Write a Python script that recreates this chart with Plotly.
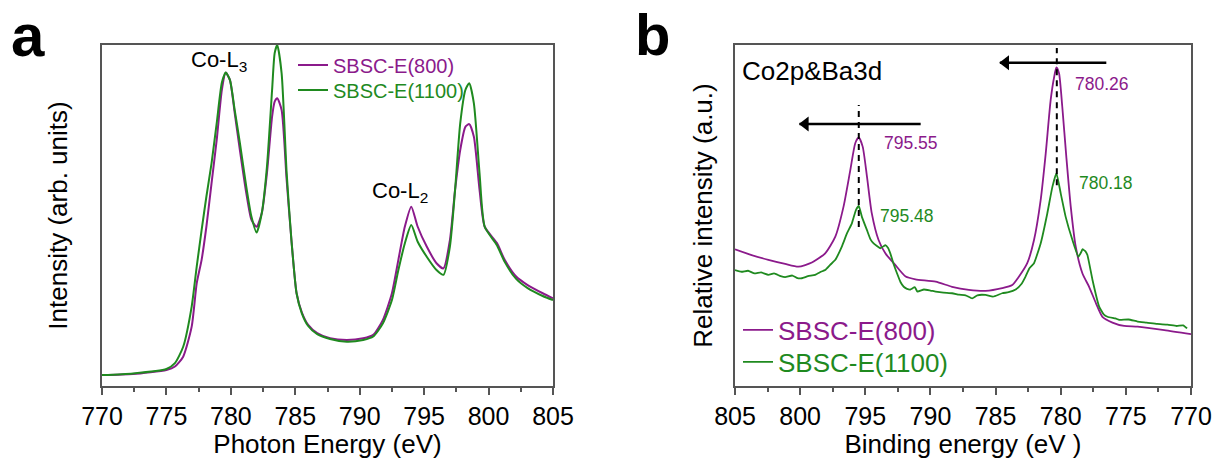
import plotly.graph_objects as go

# ---------------- (a) Co L-edge XAS ----------------
photon_energy = [770, 772.4, 775.0, 775.66, 776.3, 776.96, 777.35, 777.73, 778.1, 778.5,
                 778.9, 779.3, 779.6, 779.93, 780.3, 780.7, 781.2, 781.6, 782.0, 782.4,
                 782.8, 783.2, 783.4, 783.6, 783.94, 784.33, 784.7, 785.1, 785.5, 786.0,
                 786.7, 787.7, 789.0, 790.27, 791.05, 791.8, 792.5, 793.0, 793.5, 794.0,
                 794.5, 795.2, 795.96, 796.5, 797.0, 797.4, 797.8, 798.2, 798.5, 798.86,
                 799.3, 799.7, 800.65, 801.25, 802.14, 803.03, 804.2, 805]
xas_800 = [0.032, 0.035, 0.047, 0.057, 0.086, 0.174, 0.301, 0.370, 0.467, 0.594,
           0.721, 0.868, 0.919, 0.897, 0.800, 0.692, 0.565, 0.487, 0.467, 0.507,
           0.624, 0.790, 0.834, 0.844, 0.809, 0.604, 0.428, 0.272, 0.217, 0.179,
           0.155, 0.140, 0.135, 0.140, 0.150, 0.194, 0.272, 0.370, 0.467, 0.526,
           0.467, 0.409, 0.360, 0.345, 0.428, 0.575, 0.692, 0.760, 0.768, 0.731,
           0.575, 0.467, 0.419, 0.370, 0.321, 0.296, 0.272, 0.257]
xas_1100 = [0.032, 0.037, 0.050, 0.067, 0.115, 0.233, 0.350, 0.457, 0.555, 0.653,
            0.770, 0.889, 0.919, 0.897, 0.809, 0.713, 0.584, 0.496, 0.450, 0.507,
            0.643, 0.868, 0.976, 1.000, 0.917, 0.625, 0.428, 0.272, 0.214, 0.176,
            0.152, 0.138, 0.130, 0.135, 0.145, 0.184, 0.252, 0.340, 0.418, 0.472,
            0.423, 0.379, 0.340, 0.326, 0.409, 0.575, 0.770, 0.868, 0.888, 0.829,
            0.624, 0.467, 0.413, 0.364, 0.314, 0.287, 0.264, 0.252]

# ---------------- (b) Co2p & Ba3d XPS ----------------
be_800 = [805, 803.72, 802.44, 801.15, 800.13, 799.1, 798.08, 797.3, 796.67, 796.15,
          795.77, 795.5, 795.2, 794.87, 794.5, 793.98, 793.46, 792.7, 791.9, 791.15,
          789.6, 788.34, 787.05, 785.77, 784.49, 783.72, 783.2, 782.57, 782.05, 781.54,
          781.15, 780.77, 780.5, 780.33, 780.13, 779.88, 779.57, 779.23, 778.85, 778.33,
          777.82, 777.3, 776.8, 776.03, 775.13, 774.1, 772.05, 770]
xps_800 = [0.401, 0.384, 0.370, 0.358, 0.350, 0.362, 0.389, 0.438, 0.526, 0.633,
           0.712, 0.729, 0.702, 0.614, 0.506, 0.428, 0.389, 0.355, 0.321, 0.313,
           0.306, 0.291, 0.282, 0.279, 0.287, 0.296, 0.321, 0.360, 0.428, 0.545,
           0.682, 0.839, 0.907, 0.934, 0.917, 0.819, 0.672, 0.526, 0.409, 0.330,
           0.291, 0.243, 0.203, 0.186, 0.176, 0.174, 0.164, 0.152]
be_1100 = [805, 804.5, 804.0, 803.5, 803.0, 802.44, 802.0, 801.5, 801.15, 800.6,
           800.2, 799.87, 799.4, 798.85, 798.4, 798.08, 797.7, 797.3, 796.8, 796.4,
           796.03, 795.72, 795.5, 795.26, 794.87, 794.6, 794.36, 793.85, 793.6, 793.46,
           793.25, 793.08, 792.8, 792.56, 792.3, 792.05, 791.8, 791.54, 791.2, 791.0,
           790.5, 790.0, 789.6, 789.0, 788.34, 787.8, 787.3, 786.8, 786.4, 785.77,
           785.2, 784.49, 784.0, 783.46, 783.0, 782.7, 782.4, 782.05, 781.54, 781.03,
           780.64, 780.33, 780.0, 779.62, 779.1, 778.64, 778.4, 778.33, 778.1, 777.95,
           777.56, 777.05, 776.7, 776.41, 775.8, 775.5, 774.8, 774.1, 773.4, 772.6,
           771.8, 771.1, 770.6, 770.3]
xps_1100 = [0.340, 0.335, 0.338, 0.330, 0.333, 0.326, 0.330, 0.322, 0.319, 0.324,
            0.316, 0.316, 0.322, 0.326, 0.335, 0.340, 0.355, 0.370, 0.409, 0.448,
            0.477, 0.516, 0.528, 0.496, 0.457, 0.430, 0.418, 0.404, 0.410, 0.413,
            0.405, 0.389, 0.355, 0.330, 0.305, 0.291, 0.285, 0.283, 0.290, 0.277,
            0.283, 0.280, 0.277, 0.274, 0.272, 0.268, 0.266, 0.257, 0.266, 0.267,
            0.262, 0.272, 0.275, 0.283, 0.300, 0.321, 0.345, 0.360, 0.418, 0.506,
            0.584, 0.624, 0.565, 0.496, 0.428, 0.379, 0.395, 0.401, 0.395, 0.384,
            0.311, 0.233, 0.210, 0.203, 0.198, 0.194, 0.195, 0.189, 0.186, 0.182,
            0.180, 0.176, 0.178, 0.169]

# peak positions and labels in (b)
peak_lines = [795.5, 780.3]
peak_line_span = [(0.466, 0.824), (0.589, 0.991)]
peak_labels = [("795.55", 793.68, 0.713, "800"), ("795.48", 794.02, 0.500, "1100"),
               ("780.26", 779.05, 0.886, "800"), ("780.18", 778.75, 0.595, "1100")]
# shift arrows towards higher binding energy: (tail, tip, height)
shift_arrows = [(790.75, 800.05, 0.768), (776.5, 784.67, 0.948)]
ARROW_HEAD_DEPTH = 0.45  # eV between arrow tip and head marker centre

PURPLE = "#8b1a8b"
GREEN = "#1f8a1f"
COLORS = {"800": PURPLE, "1100": GREEN}
FONT = "Liberation Sans, Arial, sans-serif"
AXIS_COLOR = "#555555"
W, H = 1214, 459


def label(text, color):
    return f"<span style='color:{color}'>{text}</span>"


def px_x(px):
    return px / W


def px_y(px):
    return 1 - px / H


fig = go.Figure()

series = [
    (photon_energy, xas_800, PURPLE, "SBSC-E(800)", "x", "y", "legend", 2.0, 0.6),
    (photon_energy, xas_1100, GREEN, "SBSC-E(1100)", "x", "y", "legend2", 2.0, 0.6),
    (be_800, xps_800, PURPLE, "SBSC-E(800)", "x2", "y2", "legend3", 1.8, 0.6),
    (be_1100, xps_1100, GREEN, "SBSC-E(1100)", "x2", "y2", "legend4", 1.8, 0.4),
]
for xs, ys, color, name, xa, ya, lg, lw, sm in series:
    fig.add_trace(go.Scatter(x=xs, y=ys, mode="lines",
                             line=dict(color=color, width=lw, shape="spline", smoothing=sm),
                             name=label(name, color), xaxis=xa, yaxis=ya, legend=lg))

# shift arrows in (b)
for tail, tip, yv in shift_arrows:
    fig.add_trace(go.Scatter(x=[tail, tip], y=[yv, yv], mode="lines",
                             line=dict(color="black", width=2.5),
                             xaxis="x2", yaxis="y2", showlegend=False, hoverinfo="skip"))
    fig.add_trace(go.Scatter(x=[tip - ARROW_HEAD_DEPTH], y=[yv], mode="markers",
                             marker=dict(symbol="triangle-left", size=13, color="black",
                                         line=dict(width=0)),
                             xaxis="x2", yaxis="y2", showlegend=False, hoverinfo="skip"))

x_common = dict(
    automargin=False,
    showline=True, linecolor=AXIS_COLOR, linewidth=1.5, mirror=True,
    showgrid=False, zeroline=False,
    ticks="outside", ticklen=7, tickwidth=1.5, tickcolor=AXIS_COLOR,
    dtick=5, tick0=770,
    minor=dict(ticks="outside", ticklen=4, tickwidth=1.5, tickcolor=AXIS_COLOR, dtick=2.5),
    tickfont=dict(family=FONT, size=25, color="black"),
    title_font=dict(family=FONT, size=26, color="black"),
    title_standoff=6,
)
y_common = dict(
    automargin=False,
    showline=True, linecolor=AXIS_COLOR, linewidth=1.5, mirror=True,
    showgrid=False, zeroline=False, showticklabels=False, ticks="",
    range=[0, 1.0],
    title_font=dict(family=FONT, size=26, color="black"),
)


def legend_box(x_px, y_px, size):
    return dict(x=px_x(x_px), y=px_y(y_px), xanchor="left", yanchor="middle",
                bgcolor="rgba(0,0,0,0)", font=dict(family=FONT, size=size),
                itemwidth=30, borderwidth=0)


fig.update_layout(
    width=W, height=H,
    margin=dict(l=0, r=0, t=0, b=0, autoexpand=False),
    paper_bgcolor="white", plot_bgcolor="white",
    font=dict(family=FONT, color="black"),
    xaxis=dict(domain=[px_x(102), px_x(553)], range=[770, 805], anchor="y",
               title_text="Photon Energy (eV)", **x_common),
    yaxis=dict(domain=[px_y(386), px_y(45)], anchor="x",
               title_text="Intensity (arb. units)", title_standoff=25, **y_common),
    xaxis2=dict(domain=[px_x(735), px_x(1191)], range=[805, 770], anchor="y2",
                title_text="Binding energy (eV )", **x_common),
    yaxis2=dict(domain=[px_y(386), px_y(45)], anchor="x2",
                title_text="Relative intensity (a.u.)", title_standoff=13, **y_common),
    legend=legend_box(293, 65, 20),
    legend2=legend_box(293, 90, 20),
    legend3=legend_box(738, 330, 26),
    legend4=legend_box(738, 362, 26),
    showlegend=True,
)

annotations = [
    dict(text="<b>a</b>", x=px_x(27.5), y=1, xref="paper", yref="paper",
         xanchor="center", yanchor="top", showarrow=False,
         font=dict(family=FONT, size=60, color="black")),
    dict(text="<b>b</b>", x=px_x(652.5), y=1, xref="paper", yref="paper",
         xanchor="center", yanchor="top", showarrow=False,
         font=dict(family=FONT, size=58, color="black")),
    dict(text="Co-L<sub>3</sub>", x=776.75, y=0.954, xref="x", yref="y",
         xanchor="left", yanchor="middle", showarrow=False,
         font=dict(family=FONT, size=22, color="black")),
    dict(text="Co-L<sub>2</sub>", x=790.79, y=0.570, xref="x", yref="y",
         xanchor="left", yanchor="middle", showarrow=False,
         font=dict(family=FONT, size=22, color="black")),
    dict(text="Co2p&Ba3d", x=0.01, y=0.924, xref="x2 domain", yref="y2 domain",
         xanchor="left", yanchor="middle", showarrow=False,
         font=dict(family=FONT, size=26, color="black")),
]
for text, xv, yv, key in peak_labels:
    annotations.append(dict(text=text, x=xv, y=yv, xref="x2", yref="y2",
                            xanchor="left", yanchor="middle", showarrow=False,
                            font=dict(family=FONT, size=17.5, color=COLORS[key])))
fig.update_layout(annotations=annotations)

for xv, (y0, y1) in zip(peak_lines, peak_line_span):
    fig.add_shape(type="line", x0=xv, x1=xv, y0=y0, y1=y1, xref="x2", yref="y2",
                  line=dict(color="black", width=2, dash="6px,5px"))

fig.write_html("out.html")
